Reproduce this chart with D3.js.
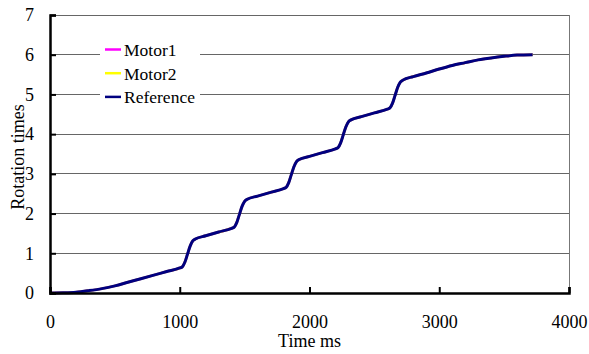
<!DOCTYPE html>
<html>
<head>
<meta charset="utf-8">
<script src="https://cdn.jsdelivr.net/npm/d3@7"></script>
<style>
  body { margin: 0; background: #fff; }
  svg text { font-family: "Times New Roman", "Liberation Serif", "DejaVu Serif", serif; }
</style>
</head>
<body>
<div id="viz"></div>
<script>
// time axis samples (ms)
const timeMs = [0, 100, 200, 300, 400, 500, 600, 700, 800, 900, 1000,
  1020, 1040, 1060, 1080, 1100, 1120, 1200, 1300, 1400,
  1420, 1440, 1460, 1480, 1500, 1520, 1600, 1700, 1800,
  1820, 1840, 1860, 1880, 1900, 1920, 2000, 2100, 2200,
  2220, 2240, 2260, 2280, 2300, 2320, 2400, 2500, 2600,
  2620, 2640, 2660, 2680, 2700, 2720, 2800, 2900, 3000,
  3100, 3200, 3300, 3400, 3500, 3600, 3720];

const reference = [0, 0.005, 0.02, 0.06, 0.11, 0.18, 0.27, 0.36, 0.45, 0.54, 0.63,
  0.66, 0.78, 0.98, 1.18, 1.31, 1.36, 1.44, 1.535, 1.63,
  1.66, 1.78, 1.98, 2.18, 2.31, 2.36, 2.44, 2.535, 2.63,
  2.66, 2.78, 2.98, 3.18, 3.31, 3.36, 3.44, 3.535, 3.63,
  3.66, 3.78, 3.98, 4.18, 4.31, 4.36, 4.44, 4.535, 4.63,
  4.66, 4.78, 4.98, 5.18, 5.31, 5.36, 5.45, 5.54, 5.64,
  5.73, 5.80, 5.87, 5.92, 5.96, 5.99, 6.00];

const motor1 = [0, 0.005, 0.02, 0.06, 0.11, 0.18, 0.27, 0.36, 0.45, 0.54, 0.63,
  0.66, 0.78, 0.98, 1.18, 1.31, 1.36, 1.44, 1.535, 1.63,
  1.66, 1.78, 1.98, 2.18, 2.31, 2.36, 2.44, 2.535, 2.63,
  2.66, 2.78, 2.98, 3.18, 3.31, 3.36, 3.44, 3.535, 3.63,
  3.66, 3.78, 3.98, 4.18, 4.31, 4.36, 4.44, 4.535, 4.63,
  4.66, 4.78, 4.98, 5.18, 5.31, 5.36, 5.45, 5.54, 5.64,
  5.73, 5.80, 5.87, 5.92, 5.96, 5.99, 6.00];

const motor2 = [0, 0.005, 0.02, 0.06, 0.11, 0.18, 0.27, 0.36, 0.45, 0.54, 0.63,
  0.66, 0.78, 0.98, 1.18, 1.31, 1.36, 1.44, 1.535, 1.63,
  1.66, 1.78, 1.98, 2.18, 2.31, 2.36, 2.44, 2.535, 2.63,
  2.66, 2.78, 2.98, 3.18, 3.31, 3.36, 3.44, 3.535, 3.63,
  3.66, 3.78, 3.98, 4.18, 4.31, 4.36, 4.44, 4.535, 4.63,
  4.66, 4.78, 4.98, 5.18, 5.31, 5.36, 5.45, 5.54, 5.64,
  5.73, 5.80, 5.87, 5.92, 5.96, 5.99, 6.00];

const seriesNames = ["Motor1", "Motor2", "Reference"];
const xTicks = [0, 1000, 2000, 3000, 4000];
const yTicks = [0, 1, 2, 3, 4, 5, 6, 7];

const width = 589;
const height = 354;
const plotLeft = 50, plotRight = 569, plotTop = 15, plotBottom = 293;
const serif = "'Times New Roman', 'Liberation Serif', 'DejaVu Serif', serif";

const svg = d3.select("#viz").append("svg")
    .attr("width", width)
    .attr("height", height);

const x = d3.scaleLinear().domain([0, 4000]).range([plotLeft, plotRight]);
const y = d3.scaleLinear().domain([0, 7]).range([plotBottom, plotTop]);

// gridlines
svg.selectAll("line.grid")
    .data(yTicks.slice(1))
    .enter()
    .append("line")
    .attr("class", "grid")
    .attr("x1", plotLeft).attr("x2", plotRight)
    .attr("y1", d => y(d)).attr("y2", d => y(d))
    .attr("stroke", "#666")
    .attr("stroke-width", 1)
    .attr("shape-rendering", "crispEdges");

// right border
svg.append("line")
    .attr("x1", plotRight).attr("x2", plotRight)
    .attr("y1", plotTop).attr("y2", plotBottom)
    .attr("stroke", "#777")
    .attr("shape-rendering", "crispEdges");

// lines
const colors = { Motor1: "#ff00ff", Motor2: "#ffff00", Reference: "#000080" };
const values = { Motor1: motor1, Motor2: motor2, Reference: reference };

const line = d3.line()
    .x(d => x(d[0]))
    .y(d => y(d[1]))
    .curve(d3.curveMonotoneX);

seriesNames.forEach(name => {
    svg.append("path")
        .datum(timeMs.map((t, i) => [t, values[name][i]]))
        .attr("d", line)
        .attr("fill", "none")
        .attr("stroke", colors[name])
        .attr("stroke-width", name === "Reference" ? 3 : 2.5);
});

// axes with inward ticks
const xAxis = svg.append("g")
    .attr("transform", `translate(0,${plotBottom})`)
    .call(d3.axisBottom(x).tickValues(xTicks).tickFormat(d3.format("d"))
        .tickSize(-6).tickPadding(22));
const yAxis = svg.append("g")
    .attr("transform", `translate(${plotLeft},0)`)
    .call(d3.axisLeft(y).tickValues(yTicks).tickFormat(d3.format("d"))
        .tickSize(-6).tickPadding(16));

[xAxis, yAxis].forEach(g => {
    g.attr("font-family", serif).attr("font-size", 18);
    g.select(".domain").attr("stroke", "#000").attr("stroke-width", 2.5);
    g.selectAll(".tick line").attr("stroke", "#000").attr("stroke-width", 2);
    g.selectAll(".tick text").attr("fill", "#000");
});

// axis titles
svg.append("text")
    .attr("x", (plotLeft + plotRight) / 2)
    .attr("y", 347)
    .attr("text-anchor", "middle")
    .style("font-size", "18px")
    .text("Time ms");

svg.append("text")
    .attr("transform", `translate(24,${(plotTop + plotBottom) / 2 + 3}) rotate(-90)`)
    .attr("text-anchor", "middle")
    .style("font-size", "18px")
    .text("Rotation times");

// legend
svg.append("rect")
    .attr("x", 100).attr("y", 38)
    .attr("width", 100).attr("height", 72)
    .attr("fill", "#fff");

const legend = svg.selectAll("g.legend")
    .data(seriesNames)
    .enter()
    .append("g")
    .attr("class", "legend")
    .attr("transform", (d, i) => `translate(105,${49.5 + i * 23.7})`);

legend.append("line")
    .attr("x1", 0).attr("x2", 16)
    .attr("stroke", d => colors[d])
    .attr("stroke-width", 2.5);

legend.append("text")
    .attr("x", 19)
    .attr("y", 6.5)
    .style("font-size", "17.5px")
    .text(d => d);
</script>
</body>
</html>
